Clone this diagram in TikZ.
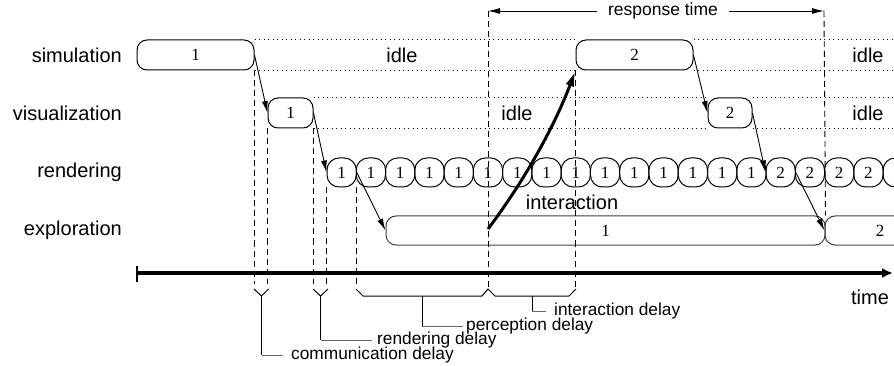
\documentclass[tikz,border=0pt]{standalone}
\usepackage{fontspec}
\setmainfont{Liberation Serif}
\newfontfamily\lsans{Liberation Sans}
\usetikzlibrary{arrows.meta}
\begin{document}
\begin{tikzpicture}[x=1pt,y=-1pt,
  box/.style={draw, line width=1pt, rounded corners=10pt, minimum height=30pt, inner sep=0pt, font=\fontsize{17}{20}\selectfont},
  cell/.style={box, rounded corners=12pt, minimum width=29.27pt, minimum height=29pt},
  lab/.style={font=\lsans\fontsize{20}{24}\selectfont, inner sep=0pt},
  small/.style={font=\lsans\fontsize{17.3}{20}\selectfont, inner sep=0pt, anchor=west},
  guide/.style={line width=0.9pt, dash pattern=on 6pt off 4pt},
  idleline/.style={line width=0.9pt, dash pattern=on 1pt off 3.5pt},
  flow/.style={line width=0.9pt, -{Latex[length=12pt,width=6pt]}},
  leg/.style={line width=1pt},
  legh/.style={line width=1pt, black!60}
]
\useasboundingbox (0,0) rectangle (894,366);
\clip (0,0) rectangle (894,366);

% row labels
\node[lab, anchor=east] (lsim) at (122,55) {simulation};
\node[lab, anchor=east] (lvis) at (122,113) {visualization};
\node[lab, anchor=east] (lren) at (122,172.5) {rendering};
\node[lab, anchor=east] (lexp) at (122,230.5) {exploration};

% boxes
\node[box, minimum width=117pt] (sim1) at (195.5,55) {1};
\node[box, minimum width=117pt] (sim2) at (634.5,55) {2};
\node[box, minimum width=45pt] (vis1) at (290.5,113) {1};
\node[box, minimum width=44pt] (vis2) at (730,113) {2};
\foreach \i in {1,...,15} \node[cell] (r\i) at ({327+29.27*(\i-0.5)},172.5) {1};
\foreach \i in {1,...,5} \node[cell] (s\i) at ({766+29.27*(\i-0.5)},172.5) {2};
\node[box, draw=black!75, minimum width=439pt, minimum height=29pt] (exp1) at (605.5,230.5) {1};
\node[box, draw=black!75, minimum width=110pt, minimum height=29pt] (exp2) at (880,230.5) {2};

% idle lines
\draw[idleline] (sim1.north east) -- (sim2.north west) (sim1.south east) -- (sim2.south west);
\draw[idleline] (sim2.north east) -- ++(220,0) (sim2.south east) -- ++(220,0);
\draw[idleline] (vis1.north east) -- (vis2.north west) (vis1.south east) -- (vis2.south west);
\draw[idleline] (vis2.north east) -- ++(200,0) (vis2.south east) -- ++(200,0);
\node[lab] (i1) at (402,55) {idle};
\node[lab] (i2) at (868,55) {idle};
\node[lab] (i3) at (517,113) {idle};
\node[lab] (i4) at (868,113) {idle};

% flow arrows
\draw[flow] (sim1.east) -- (vis1.west);
\draw[flow] (vis1.east) -- (r1.west);
\draw[flow] (r1.east) -- (exp1.west);
\draw[flow] (sim2.east) -- (vis2.west);
\draw[flow] (vis2.east) -- (s1.west);
\draw[flow] (s1.east) -- (exp2.west);

% guides
\coordinate (g) at (0,284);
\coordinate (gb) at (0,289);
\coordinate (rt1) at (488,11);
\coordinate (rt2) at (824,11);
\draw[guide] (sim1.south east) -- (sim1.south east |- g);
\draw[guide] (vis1.south west) -- (vis1.south west |- g);
\draw[guide] (vis1.south east) -- (vis1.south east |- g);
\draw[guide] (r1.south west) -- (r1.south west |- g);
\draw[guide] (r1.south east) -- (r1.south east |- g);
\draw[guide] (rt1) -- (rt1 |- gb);
\draw[guide] (sim2.south west) -- (sim2.south west |- gb);
\draw[guide] (rt2) -- (exp1.north east);

% response time
\node[font=\lsans\fontsize{17.5}{20}\selectfont, inner xsep=11pt, inner ysep=0pt] (rt) at (663,11) {response time};
\draw[flow] (rt.west) -- (rt1);
\draw[flow] (rt.east) -- (rt2);

% interaction
\coordinate (ia) at (488,229);
\draw[line width=3pt, -{Latex[length=16pt,width=9pt]}] (ia) .. controls (525,180) and (555,125) .. (sim2.south west);
\node[lab] (inter) at (572,202) {interaction};

% time axis
\coordinate (t0) at (137,273);
\coordinate (t1) at (893,273);
\draw[line width=3.3pt, -{Latex[length=11pt,width=10pt]}] (t0) -- (t1);
\draw[line width=2pt] (137,266) -- (137,282);
\node[lab] (time) at (870,297) {time};

% delay legends
\draw[leg] (254,289) -- (261.5,296) -- (268.5,289);
\draw[leg] (261.5,296) -- (261.5,355);
\draw[legh] (261.5,355) -- (283,355);
\node[small] (cd) at (291,355) {communication delay};

\draw[leg] (313,289) -- (320.5,296) -- (328,289);
\draw[leg] (320.5,296) -- (320.5,340);
\draw[legh] (320.5,340) -- (372,340);
\node[small] (rd) at (377,340) {rendering delay};

\draw[leg] (356,289) -- (363,296) -- (482,296) -- (488,289) -- (495,296) -- (569,296) -- (576,289);
\draw[leg] (422,296) -- (422,326);
\draw[legh] (422,326) -- (463,326);
\node[small] (pd) at (466,326) {perception delay};
\draw[leg] (532,296) -- (532,311);
\draw[legh] (532,311) -- (546,311);
\node[small] (id) at (554,311) {interaction delay};
\end{tikzpicture}
\end{document}
